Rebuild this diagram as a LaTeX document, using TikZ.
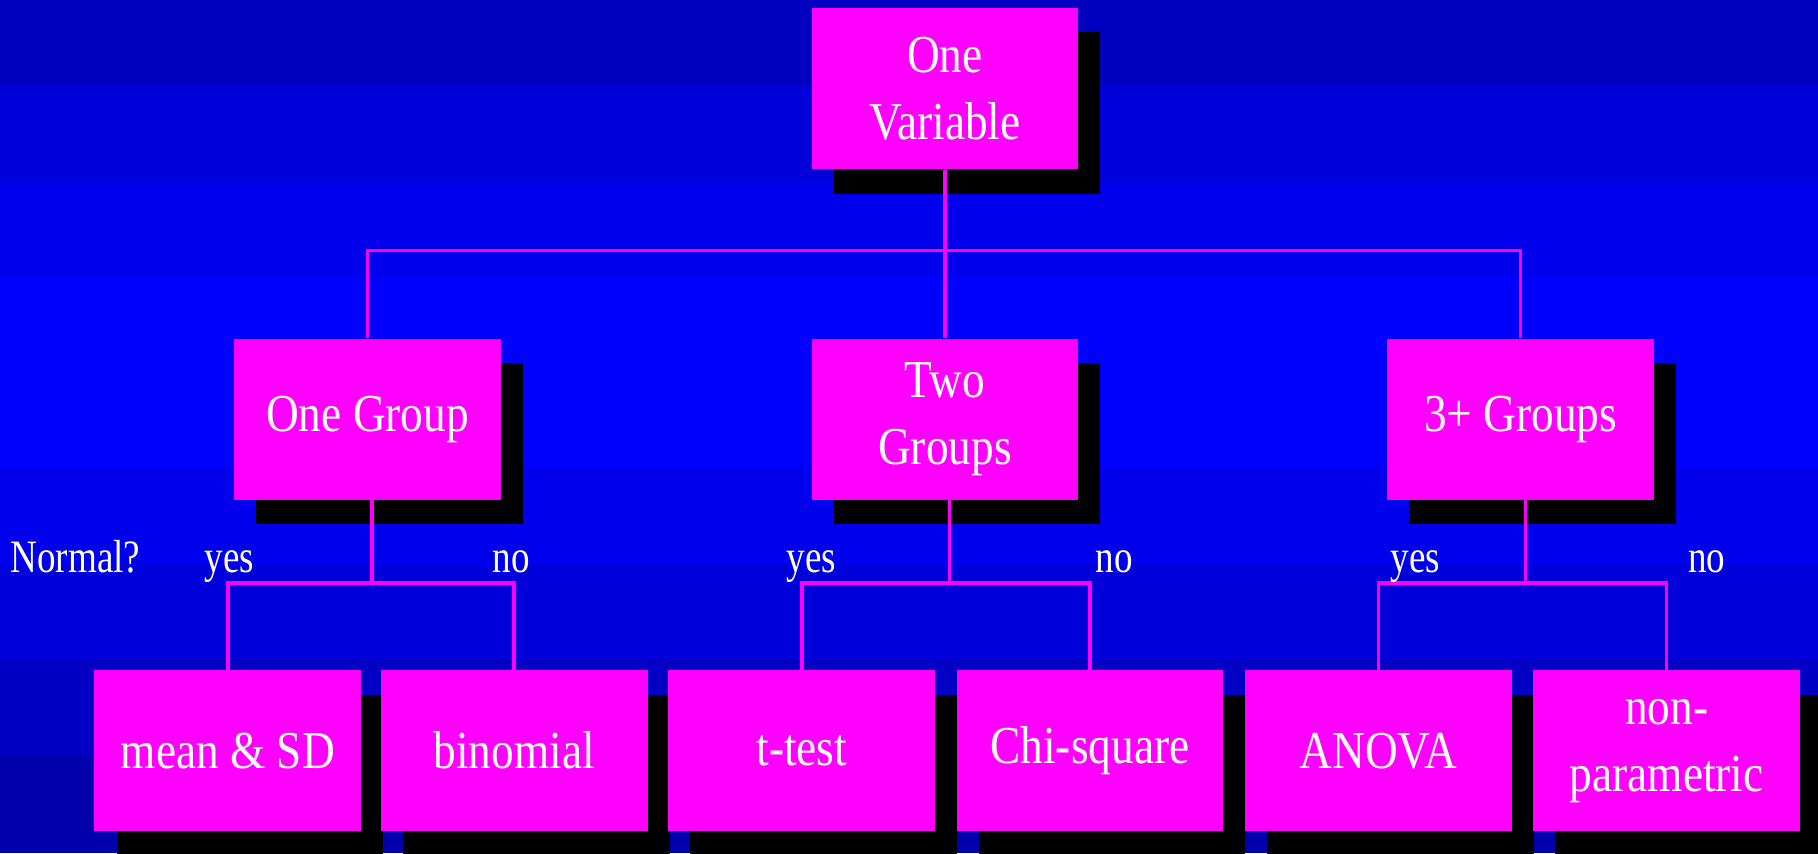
\documentclass[tikz,border=0pt]{standalone}
\usepackage{fontspec}
\setmainfont[FakeStretch=0.85]{Liberation Serif}
\newfontfamily\lblfont[FakeStretch=0.8]{Liberation Serif}
\usetikzlibrary{shadows}
\definecolor{boxpink}{HTML}{FF00FF}
\begin{document}
\begin{tikzpicture}[x=1pt,y=-1pt,
  box/.style={fill=boxpink, text=white, minimum width=230pt, minimum height=139pt,
    inner sep=0pt, align=center, font=\fontsize{46}{58}\selectfont,
    drop shadow={shadow xshift=19pt, shadow yshift=-21pt, fill=black, opacity=1}},
  link/.style={draw=boxpink, line width=3pt},
  lbl/.style={text=white, font=\lblfont\fontsize{40}{48}\selectfont, anchor=base, inner sep=0pt}]

% banded blue backdrop
\useasboundingbox (0,0) rectangle (1568,736);
\foreach \ya/\yb/\c in {0/73/192, 73/156/216, 156/239/236, 239/322/255, 322/404/255,
    404/487/236, 487/569/218, 569/652/196, 652/736/172}{
  \definecolor{bandblue}{RGB}{0,0,\c}
  \fill[bandblue] (0,\ya) rectangle (1568,\yb);
}

% boxes
\node[box] (top) at (815,76.5) {One\\Variable};
\node[box] (og) at (317,361.5) {One Group};
\node[box] (tg) at (815,361.5) {Two\\Groups};
\node[box] (th) at (1311.5,361.5) {3+ Groups};
\node[box] (ms) at (196.5,647.5) {mean \& SD};
\node[box] (bin) at (443.5,647.5) {binomial};
\node[box] (tt) at (691.5,647.5) {t-test};
\node[box] (chi) at (940,647.5) {Chi-square};
\node[box] (an) at (1189,647.5) {ANOVA};
\node[box] (np) at (1437.5,647.5) {non-\\parametric};

% bus levels
\coordinate (bus1) at (0,216);
\coordinate (bus2) at (0,503);

% first split
\draw[link] (top.south) -- (tg.north);
\draw[link] (og.north) -- (og.north |- bus1) -- (th.north |- bus1) -- (th.north);

% second splits
\foreach \p/\a/\b in {og/ms/bin, tg/tt/chi, th/an/np}{
  \draw[link] ([xshift=4pt]\p.south) -- ([xshift=4pt]\p.south |- bus2);
  \draw[link] (\a.north) -- (\a.north |- bus2) -- (\b.north |- bus2) -- (\b.north);
}

% labels
\node[lbl] (normal) at (65,494) {Normal?};
\node[lbl] (y1) at (198,494) {yes};
\node[lbl] (n1) at (441,494) {no};
\node[lbl] (y2) at (700,494) {yes};
\node[lbl] (n2) at (961,494) {no};
\node[lbl] (y3) at (1221,494) {yes};
\node[lbl] (n3) at (1472,494) {no};
\end{tikzpicture}
\end{document}
